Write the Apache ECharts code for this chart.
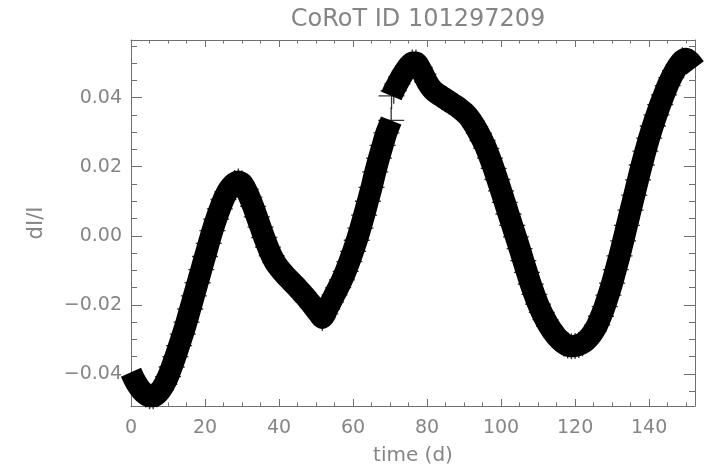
<!DOCTYPE html>
<html>
<head>
<meta charset="utf-8">
<script src="https://cdn.jsdelivr.net/npm/echarts@6/dist/echarts.min.js"></script>
<style>
html,body{margin:0;padding:0;background:#fff;}
#chart{width:709px;height:471px;}
</style>
</head>
<body>
<div id="chart"></div>
<script>
// ---- data ----
const titleText = 'CoRoT ID 101297209';
const xName = 'time (d)';
const yName = 'dI/I';

// first segment (before the jump near t = 70 d)
const timeA = [0,1,2,3,4,5,6,7,8,9,10,11,12,13,14,15,16,17,18,19,20,21,22,23,24,25,26,27,28,29,30,31,32,33,34,35,36,37,38,39,40,41,42,43,44,45,46,47,48,49,50,51,51.7,52.5,53,54,55,56,57,58,59,60,61,62,63,64,65,66,67,68,69,70.3];
const fluxA = [-0.0395,-0.0418,-0.0436,-0.0450,-0.0460,-0.0465,-0.0465,-0.0459,-0.0447,-0.0430,-0.0408,-0.0380,-0.0350,-0.0318,-0.0285,-0.0250,-0.0212,-0.0174,-0.0136,-0.0098,-0.0060,-0.0022,0.0015,0.0048,0.0078,0.0105,0.0127,0.0143,0.0153,0.0157,0.0152,0.0135,0.0112,0.0085,0.0055,0.0025,-0.0005,-0.0033,-0.0058,-0.0078,-0.0093,-0.0106,-0.0118,-0.0129,-0.0140,-0.0151,-0.0163,-0.0175,-0.0188,-0.0201,-0.0215,-0.0229,-0.0238,-0.0226,-0.0212,-0.0192,-0.0171,-0.0150,-0.0128,-0.0103,-0.0075,-0.0045,-0.0013,0.0022,0.0060,0.0100,0.0140,0.0185,0.0225,0.0262,0.0298,0.0334];

// second segment (after the jump)
const timeB = [70.4,71,72,73,74,75,76,77,78,79,80,81,82,83,84,85,86,87,88,89,90,91,92,93,94,95,96,97,98,99,100,101,102,103,104,105,106,107,108,109,110,111,112,113,114,115,116,117,118,119,120,121,122,123,124,125,126,127,128,129,130,131,132,133,134,135,136,137,138,139,140,141,142,143,144,145,146,147,148,149,150,151,152.4];
const fluxB = [0.0405,0.0420,0.0440,0.0460,0.0477,0.0492,0.0502,0.0502,0.0488,0.0468,0.0446,0.0429,0.0418,0.0410,0.0403,0.0396,0.0389,0.0382,0.0375,0.0367,0.0358,0.0347,0.0333,0.0316,0.0297,0.0276,0.0253,0.0225,0.0195,0.0163,0.0130,0.0097,0.0063,0.0030,-0.0003,-0.0037,-0.0072,-0.0106,-0.0140,-0.0170,-0.0198,-0.0222,-0.0243,-0.0262,-0.0278,-0.0292,-0.0303,-0.0312,-0.0318,-0.0320,-0.0319,-0.0316,-0.0311,-0.0303,-0.0292,-0.0277,-0.0258,-0.0233,-0.0205,-0.0172,-0.0137,-0.0098,-0.0058,-0.0015,0.0030,0.0074,0.0118,0.0162,0.0205,0.0245,0.0283,0.0318,0.0350,0.0380,0.0408,0.0435,0.0458,0.0478,0.0495,0.0508,0.0513,0.0505,0.0486];

// axis ranges
const xMin = 0, xMax = 152.4;
const yMin = -0.0493, yMax = 0.0567;

// ---- styling ----
const AX = '#707070';
const TXT = '#858585';
const FONT = "'DejaVu Sans', sans-serif";
const PLUS = 'path://M9.5,0h1v20h-1z M0,9.5h20v1h-20z';

function pairs(t, v){ return t.map((x,i)=>[x, v[i]]); }
// '+' marks only where they stay inside the frame
function innerPairs(t, v){ return pairs(t, v).filter(p => p[0] >= 3 && p[0] <= 149); }
function fmtY(v){ return v.toFixed(2).replace('-', '\u2212'); }

function xAx(pos, major, withLabel){
  return {
    type:'value', position:pos, min:xMin, max:xMax,
    splitNumber: major ? 8 : 30,
    axisLine:{show: major, onZero:false, lineStyle:{color:AX, width:1}},
    axisTick:{show:true, inside:true, length: major ? 7 : 3.5, lineStyle:{color:AX, width:1}},
    axisLabel:{show: withLabel, margin:13, color:TXT, fontSize:19, fontFamily:FONT, showMaxLabel:false},
    splitLine:{show:false},
    name: withLabel ? xName : '',
    nameLocation:'middle', nameGap:40,
    nameTextStyle:{color:TXT, fontSize:20, fontFamily:FONT}
  };
}
function yAx(pos, major, withLabel){
  return {
    type:'value', position:pos, min:yMin, max:yMax,
    splitNumber: major ? 5 : 21,
    axisLine:{show: major, onZero:false, lineStyle:{color:AX, width:1}},
    axisTick:{show:true, inside:true, length: major ? 11 : 6, lineStyle:{color:AX, width:1}},
    axisLabel:{show: withLabel, margin:9, color:TXT, fontSize:19, fontFamily:FONT,
               showMinLabel:false, showMaxLabel:false, formatter: fmtY},
    splitLine:{show:false},
    name: withLabel ? yName : '',
    nameLocation:'middle', nameGap:84,
    nameTextStyle:{color:TXT, fontSize:21, fontFamily:FONT}
  };
}

const chart = echarts.init(document.getElementById('chart'), null, {renderer:'canvas'});
const bandLine = {width:22, color:'#000', join:'round', cap:'butt'};
chart.setOption({
  animation:false,
  backgroundColor:'#fff',
  title:{text:titleText, left:413, top:3, textAlign:'center',
         textStyle:{color:TXT, fontSize:24, fontWeight:'normal', fontFamily:FONT}},
  grid:{left:131, right:14, top:40, bottom:63},
  xAxis:[xAx('bottom', true, true), xAx('bottom', false, false), xAx('top', true, false), xAx('top', false, false)],
  yAxis:[yAx('left', true, true), yAx('left', false, false), yAx('right', true, false), yAx('right', false, false)],
  series:[
    {type:'line', data:pairs(timeA, fluxA), showSymbol:false, smooth:0.2, lineStyle:bandLine, clip:true, z:2},
    {type:'line', data:pairs(timeB, fluxB), showSymbol:false, smooth:0.2, lineStyle:bandLine, clip:true, z:2},
    {type:'scatter', data:innerPairs(timeA, fluxA), symbol:PLUS, symbolSize:26, itemStyle:{color:'#000'}, clip:true, z:3},
    {type:'scatter', data:innerPairs(timeB, fluxB), symbol:PLUS, symbolSize:26, itemStyle:{color:'#000'}, clip:true, z:3}
  ]
});
</script>
</body>
</html>
